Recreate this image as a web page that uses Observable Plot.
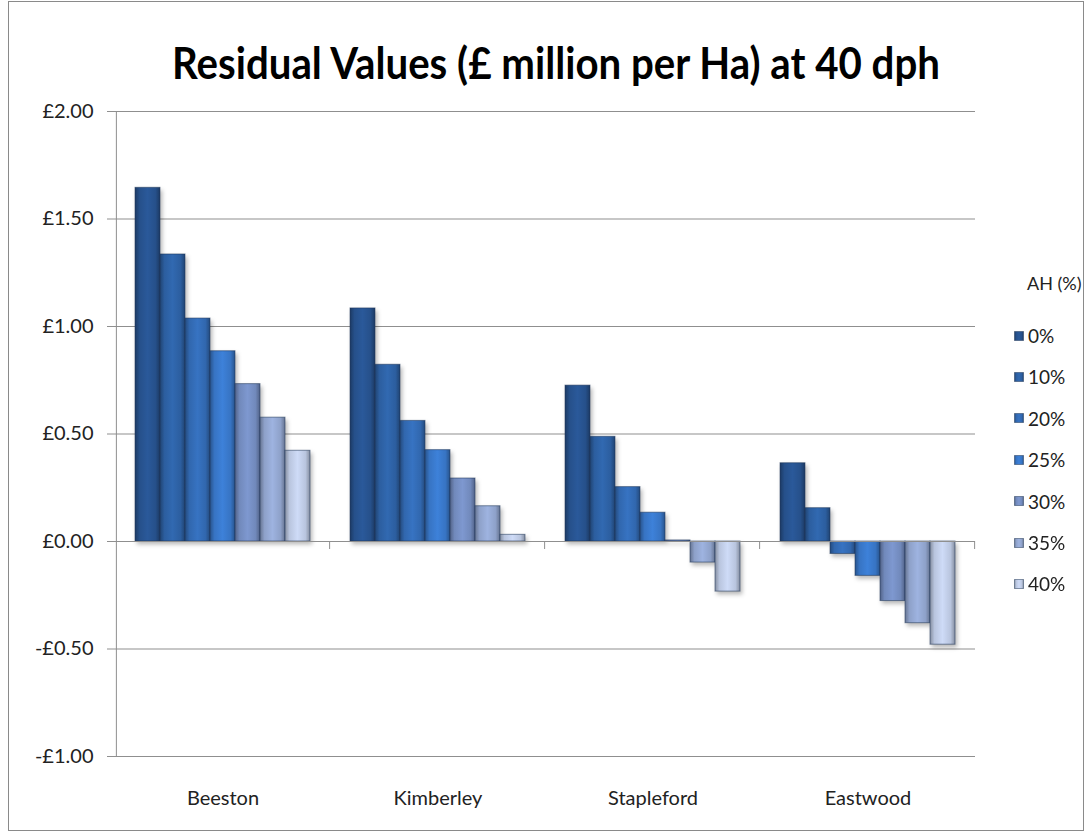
<!DOCTYPE html>
<html>
<head>
<meta charset="utf-8">
<script src="https://cdn.jsdelivr.net/npm/d3@7"></script>
<script src="https://cdn.jsdelivr.net/npm/@observablehq/plot@0.6"></script>
<style>
  html, body { margin: 0; padding: 0; background: #fff; }
  #chart { position: relative; width: 1086px; height: 834px; overflow: hidden; font-family: Lato, "Open Sans", sans-serif; }
  #frame { position: absolute; left: 8px; top: 1px; width: 1074px; height: 828px; border: 1px solid #8a8a8a; }
  #title { position: absolute; left: 172px; top: 36px; white-space: nowrap; font-family: Lato, sans-serif; font-weight: 700; font-size: 44px; color: #000; transform-origin: 0 0; }
  #plot { position: absolute; left: 0; top: 80px; }
  #legend { position: absolute; left: 1014px; top: 0; font-family: Lato, sans-serif; font-size: 19px; color: #222; }
  .lg-title { position: absolute; left: 13px; white-space: nowrap; font-size: 18px; }
  .lg-item { position: absolute; left: 0; white-space: nowrap; display: flex; align-items: center; }
  .lg-item svg { margin-right: 4px; }
</style>
</head>
<body>
<div id="chart">
  <div id="frame"></div>
  <div id="title">Residual Values (£ million per Ha) at 40 dph</div>
  <div id="plot"></div>
  <div id="legend"></div>
</div>
<script>
// ---- data ----
const locations = ["Beeston", "Kimberley", "Stapleford", "Eastwood"];
const series = ["0%", "10%", "20%", "25%", "30%", "35%", "40%"];
const beeston    = [1.645, 1.335, 1.037, 0.885, 0.732, 0.576, 0.422];
const kimberley  = [1.084, 0.822, 0.561, 0.425, 0.293, 0.164, 0.031];
const stapleford = [0.725, 0.487, 0.253, 0.134, 0.005, -0.098, -0.233];
const eastwood   = [0.364, 0.155, -0.058, -0.160, -0.277, -0.380, -0.480];
const seriesColors = ["#26508a", "#2c5e9f", "#3167ae", "#3774c3", "#7189bb", "#8ea1c9", "#b9c5de"];
const yTicks = [-1, -0.5, 0, 0.5, 1, 1.5, 2];
const legendTitle = "AH (%)";

const valuesByLocation = [beeston, kimberley, stapleford, eastwood];
const data = locations.flatMap((loc, i) =>
  series.map((s, j) => ({location: loc, series: s, value: valuesByLocation[i][j]})));

const gradIds = series.map((s, i) => `grad${i}`);
const fmt = v => (v < 0 ? "-£" : "£") + Math.abs(v).toFixed(2);

// band geometry: 7 bars + 1.5 bar gap per category
const xPadOuter = 0.75;

const plot = Plot.plot({
  width: 1086,
  height: 754,
  marginLeft: 115,
  marginRight: 111,
  marginTop: 31,
  marginBottom: 78,
  style: {fontFamily: "Lato, sans-serif", fontSize: "20px", color: "#222", background: "transparent", overflow: "visible"},
  fx: {domain: locations, paddingInner: 0, paddingOuter: 0, label: null},
  x: {domain: series, paddingInner: 0, paddingOuter: xPadOuter, axis: null},
  y: {domain: [-1, 2], axis: null},
  color: {domain: series, range: gradIds.map(id => `url(#${id})`)},
  marks: [
    Plot.ruleY(yTicks, {stroke: "#8f8f8f", strokeWidth: 1}),
    Plot.barY(data, {fx: "location", x: "series", y: "value", fill: "series",
      stroke: "#1e3557", strokeOpacity: 0.55, strokeWidth: 1}),
    Plot.ruleY([0], {stroke: "#8f8f8f", strokeWidth: 1}),
    // y axis line, only in the first facet
    Plot.ruleX([locations[0]], {fx: d => d, x: () => series[0], y1: -1, y2: 2,
      dx: -(25.294 * (xPadOuter + 0.5)), stroke: "#8f8f8f"}),
    // category separator ticks on the zero axis
    Plot.ruleX(locations, {fx: d => d, x: () => series[series.length - 1], y1: 0, y2: 0,
      insetBottom: -8, dx: 25.294 * (xPadOuter + 0.5), stroke: "#8f8f8f"}),
    Plot.axisY({ticks: yTicks, tickFormat: fmt, tickSize: 8, tickPadding: 14,
      stroke: "#8f8f8f", fill: "#222", fontSize: 20, label: null}),
    Plot.axisFx({anchor: "bottom", tickSize: 0, tickPadding: 34, fontSize: 20, fill: "#222", label: null})
  ]
});

document.getElementById("plot").appendChild(plot);

// gradients for the bars
const svgNS = "http://www.w3.org/2000/svg";
function addGradients(svg, idPrefix) {
  const defs = document.createElementNS(svgNS, "defs");
  seriesColors.forEach((c, i) => {
    const g = document.createElementNS(svgNS, "linearGradient");
    g.setAttribute("id", idPrefix + i);
    g.setAttribute("x1", "0"); g.setAttribute("x2", "1"); g.setAttribute("y1", "0"); g.setAttribute("y2", "0");
    const base = d3.color(c);
    const stops = [[0, base.darker(0.9)], [0.18, base], [0.5, base.brighter(0.3)], [0.82, base], [1, base.darker(0.9)]];
    stops.forEach(([o, col]) => {
      const s = document.createElementNS(svgNS, "stop");
      s.setAttribute("offset", o);
      s.setAttribute("stop-color", col.formatHex());
      g.appendChild(s);
    });
    defs.appendChild(g);
  });
  svg.insertBefore(defs, svg.firstChild);
}
addGradients(plot, "grad");
plot.querySelectorAll('g[aria-label="bar"]').forEach(g => {
  g.style.filter = "drop-shadow(2px 3px 2px rgba(0,0,0,0.28))";
});

// title: fit to reference width
const title = document.getElementById("title");
const tw = title.getBoundingClientRect().width;
title.style.transform = `scaleX(${768 / tw})`;

// legend
const legend = document.getElementById("legend");
const lt = document.createElement("div");
lt.className = "lg-title";
lt.textContent = legendTitle;
lt.style.top = "272px";
legend.appendChild(lt);
series.forEach((s, i) => {
  const item = document.createElement("div");
  item.className = "lg-item";
  item.style.top = (324 + i * 41.4) + "px";
  const sw = document.createElementNS(svgNS, "svg");
  sw.setAttribute("width", 10); sw.setAttribute("height", 10);
  addGradients(sw, "lg" + i + "_");
  const r = document.createElementNS(svgNS, "rect");
  r.setAttribute("x", 0.5); r.setAttribute("y", 0.5); r.setAttribute("width", 9); r.setAttribute("height", 9);
  r.setAttribute("fill", `url(#lg${i}_${i})`);
  r.setAttribute("stroke", "#1e3557"); r.setAttribute("stroke-opacity", 0.5);
  sw.appendChild(r);
  item.appendChild(sw);
  const t = document.createElement("span");
  t.textContent = s;
  item.appendChild(t);
  legend.appendChild(item);
});
</script>
</body>
</html>
